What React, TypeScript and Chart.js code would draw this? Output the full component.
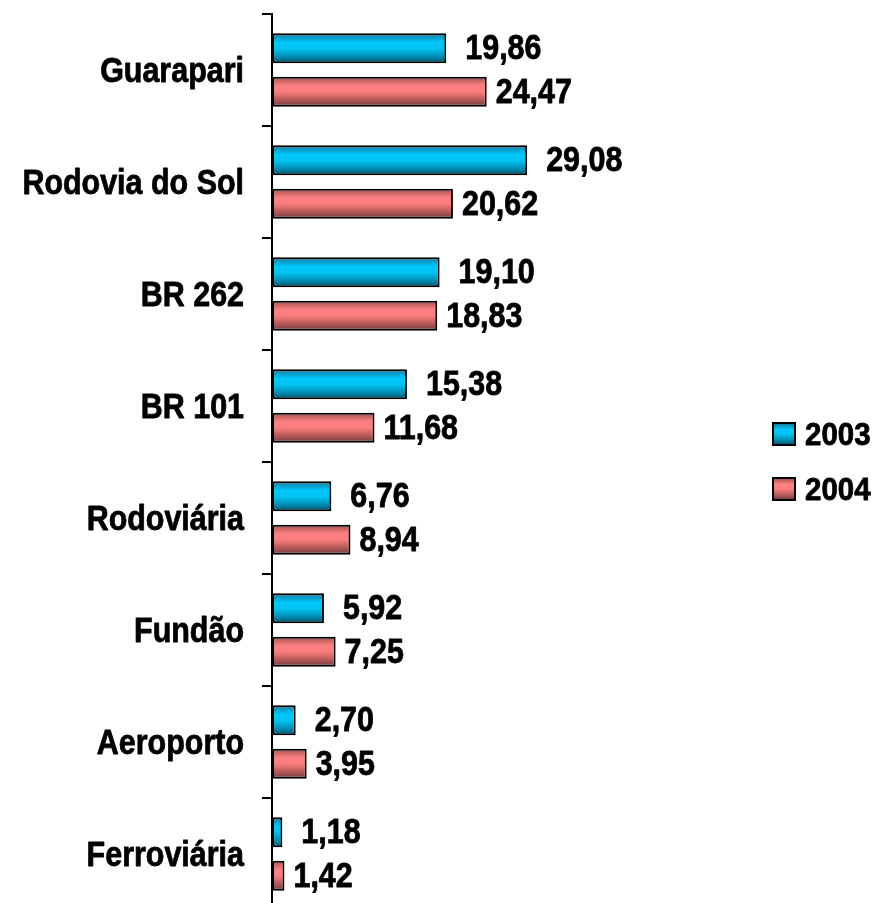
import React, { useEffect, useRef } from "react";
import { Chart, registerables } from "chart.js";

Chart.register(...registerables);

const categories = [
  "Guarapari",
  "Rodovia do Sol",
  "BR 262",
  "BR 101",
  "Rodoviária",
  "Fundão",
  "Aeroporto",
  "Ferroviária",
];
const values2003 = [19.86, 29.08, 19.1, 15.38, 6.76, 5.92, 2.7, 1.18];
const values2004 = [24.47, 20.62, 18.83, 11.68, 8.94, 7.25, 3.95, 1.42];
const seriesLabels = ["2003", "2004"];

const FONT = '"Liberation Sans", Arial, sans-serif';
const SQUEEZE = 0.87;
const TEXT_SIZE = 35;

const gradStops: Record<string, [number, string][]> = {
  "2003": [
    [0, "#236a7e"],
    [0.12, "#0a98c0"],
    [0.3, "#00c8fa"],
    [0.5, "#00c4f4"],
    [0.75, "#0092b8"],
    [1, "#00566f"],
  ],
  "2004": [
    [0, "#8a4a4a"],
    [0.12, "#c86464"],
    [0.3, "#ff8080"],
    [0.5, "#fb7e7e"],
    [0.75, "#b85c5c"],
    [1, "#703a3a"],
  ],
};

function makeGrad(ctx: CanvasRenderingContext2D, top: number, bottom: number, key: string) {
  const g = ctx.createLinearGradient(0, top, 0, bottom);
  gradStops[key].forEach(([o, c]) => g.addColorStop(o, c));
  return g;
}

function drawText(
  ctx: CanvasRenderingContext2D,
  txt: string,
  x: number,
  y: number,
  align: CanvasTextAlign,
  size: number,
  squeeze: number
) {
  ctx.save();
  ctx.translate(x, y);
  ctx.scale(squeeze, 1);
  ctx.font = `bold ${size}px ${FONT}`;
  ctx.fillStyle = "#000";
  ctx.strokeStyle = "#000";
  ctx.lineWidth = 0.8;
  ctx.lineJoin = "round";
  ctx.textAlign = align;
  ctx.textBaseline = "alphabetic";
  ctx.fillText(txt, 0, 0);
  ctx.strokeText(txt, 0, 0);
  ctx.restore();
}

const barGradientPlugin = {
  id: "barGradient",
  beforeDatasetsDraw(chart: any) {
    const ctx = chart.ctx;
    chart.data.datasets.forEach((ds: any, di: number) => {
      const meta = chart.getDatasetMeta(di);
      meta.data.forEach((el: any) => {
        const { y, height } = el.getProps(["y", "height"], true);
        el.options = Object.assign({}, el.options, {
          backgroundColor: makeGrad(ctx, y - height / 2, y + height / 2, ds.label),
        });
      });
    });
  },
};

const labelGaps = [19, 9];

const valueLabelPlugin = {
  id: "valueLabels",
  afterDatasetsDraw(chart: any) {
    const ctx = chart.ctx;
    chart.data.datasets.forEach((ds: any, di: number) => {
      const meta = chart.getDatasetMeta(di);
      meta.data.forEach((el: any, i: number) => {
        const { x, y } = el.getProps(["x", "y"], true);
        const txt = Number(ds.data[i]).toFixed(2).replace(".", ",");
        drawText(ctx, txt, x + labelGaps[di], y + 11, "left", TEXT_SIZE, SQUEEZE);
      });
    });
  },
};

const categoryLabelPlugin = {
  id: "categoryLabels",
  afterDraw(chart: any) {
    const ctx = chart.ctx;
    const yScale = chart.scales.y;
    categories.forEach((c, i) => {
      const y = yScale.getPixelForValue(i);
      drawText(ctx, c, 244, y + 12, "right", TEXT_SIZE, SQUEEZE);
    });
  },
};

const legendPlugin = {
  id: "customLegend",
  afterDraw(chart: any) {
    const ctx = chart.ctx;
    ctx.save();
    const boxX = 773;
    const boxSize = 22;
    const startY = 423;
    const step = 55;
    chart.data.datasets.forEach((ds: any, di: number) => {
      const y = startY + di * step;
      ctx.fillStyle = makeGrad(ctx, y, y + boxSize, ds.label);
      ctx.fillRect(boxX, y, boxSize, boxSize);
      ctx.lineWidth = 2;
      ctx.strokeStyle = "#000";
      ctx.strokeRect(boxX, y, boxSize, boxSize);
      drawText(ctx, ds.label, 805, y + boxSize, "left", 31, 0.95);
    });
    ctx.restore();
  },
};

export default function App() {
  const ref = useRef<HTMLCanvasElement>(null);
  useEffect(() => {
    if (!ref.current) return;
    const chart = new Chart(ref.current, {
      type: "bar",
      data: {
        labels: categories,
        datasets: [
          {
            label: seriesLabels[0],
            data: values2003,
            backgroundColor: "#00ccff",
            borderColor: "#000",
            borderWidth: 2,
            borderSkipped: false,
            categoryPercentage: 0.777,
            barPercentage: 0.69,
          },
          {
            label: seriesLabels[1],
            data: values2004,
            backgroundColor: "#ff8080",
            borderColor: "#000",
            borderWidth: 2,
            borderSkipped: false,
            categoryPercentage: 0.777,
            barPercentage: 0.69,
          },
        ],
      },
      options: {
        indexAxis: "y",
        responsive: false,
        animation: false,
        layout: { padding: { top: 14, right: 255, bottom: 0, left: 0 } },
        plugins: {
          legend: { display: false },
          tooltip: { enabled: false },
        },
        scales: {
          x: {
            display: false,
            min: 0,
            max: 40,
          },
          y: {
            afterFit: (s: any) => {
              s.width = 272;
              s.paddingTop = 0;
              s.paddingBottom = 0;
            },
            border: { display: true, color: "#000", width: 2 },
            grid: {
              display: true,
              drawOnChartArea: false,
              drawTicks: true,
              tickLength: 10,
              color: "#000",
              lineWidth: 2,
              offset: true,
            },
            ticks: {
              display: false,
            },
          },
        },
      },
      plugins: [barGradientPlugin, valueLabelPlugin, categoryLabelPlugin, legendPlugin],
    });
    return () => chart.destroy();
  }, []);
  return (
    <canvas
      ref={ref}
      width={878}
      height={910}
      style={{ position: "absolute", left: 0, top: 0, display: "block" }}
    />
  );
}
